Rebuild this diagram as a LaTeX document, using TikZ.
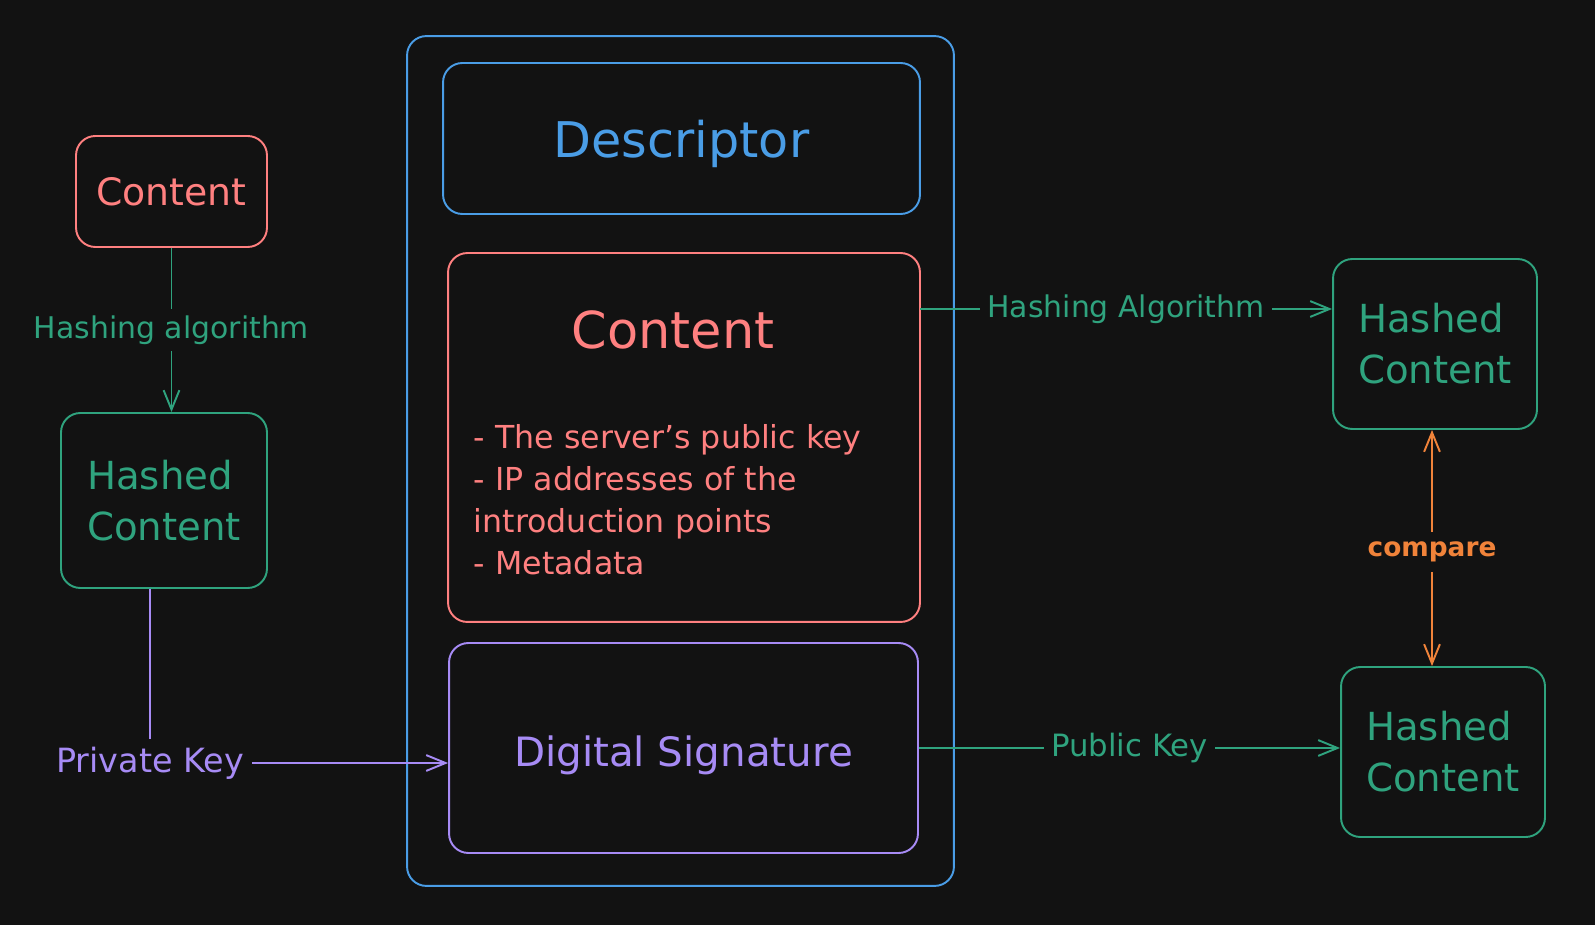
\documentclass[tikz,border=0pt]{standalone}
\usepackage{fontspec}
\setmainfont{DejaVu Sans}
\usetikzlibrary{arrows.meta}
\definecolor{bg}{HTML}{121212}
\definecolor{exred}{HTML}{FF8080}
\definecolor{exgreen}{HTML}{2FA37E}
\definecolor{exblue}{HTML}{4A9DE6}
\definecolor{expurple}{HTML}{A78BF5}
\definecolor{exorange}{HTML}{F0833A}
\begin{document}
\begin{tikzpicture}[x=0.02cm, y=-0.02cm, line width=1.1pt,
        >={Straight Barb[length=11pt,width=9pt]},
        box/.style={draw, rounded corners=11pt, inner sep=0pt},
        hashbox/.style={box, exgreen, minimum width=4.08cm, minimum height=3.4cm, align=left, font=\fontsize{22}{29}\selectfont},
        lbl/.style={fill=bg, inner sep=4pt, font=\fontsize{17}{20}\selectfont}]
        \fill[bg] (0,0) rectangle (1595,925);
        % left column
        \node[box, exred, minimum width=3.82cm, minimum height=2.22cm, font=\fontsize{21.5}{26}\selectfont] (cont) at (171.5,191.5) {Content};
        \node[hashbox, minimum width=4.12cm, minimum height=3.5cm] (hashL) at (164,500.5) {Hashed\\Content};
        \node[expurple, lbl, fill=none, font=\fontsize{19}{22}\selectfont] (pk) at (150,763) {Private Key};
        % descriptor
        \node[box, exblue, minimum width=10.94cm, minimum height=17cm] (desc) at (680.5,461) {};
        \node[box, exblue, minimum width=9.54cm, minimum height=3.02cm, text height=27.5pt, text depth=6pt, font=\fontsize{28}{34}\selectfont] (title) at (681.5,138.5) {Descriptor};
        \node[box, exred, minimum width=9.44cm, minimum height=7.38cm] (content) at (684,437.5) {};
        \node[exred, font=\fontsize{29}{34}\selectfont] (contTitle) at (673,330) {Content};
        \node[exred, anchor=west, align=left, inner sep=0pt, font=\fontsize{18}{23.8}\selectfont] (contList) at (473,499.5) {- The server's public key\\- IP addresses of the\\introduction points\\- Metadata};
        \node[box, expurple, minimum width=9.38cm, minimum height=4.2cm, text height=26pt, text depth=5pt, font=\fontsize{23}{28}\selectfont] (sig) at (683.5,748) {Digital Signature};
        % right column
        \node[hashbox] (hashT) at (1435,344) {Hashed\\Content};
        \node[hashbox] (hashB) at (1443,752) {Hashed\\Content};
        \node[exorange, lbl, inner sep=5pt, font=\fontsize{15}{18}\bfseries] (cmp) at (1432,552) {compare};
        \coordinate (haStart) at (920,309);
        % connectors
        \draw[exgreen, ->] (cont.south) -- (cont.south |- hashL.north) node[lbl, midway] {Hashing algorithm};
        \draw[expurple] (pk.north |- hashL.south) -- (pk.north);
        \draw[expurple, ->] (pk.east) -- (pk.east -| sig.west);
        \draw[exgreen, ->] (haStart) -- (haStart -| hashT.west) node[lbl, midway] {Hashing Algorithm};
        \draw[exgreen, ->] (sig.east) -- (sig.east -| hashB.west) node[lbl, midway, font=\fontsize{17.5}{20}\selectfont] {Public Key};
        \draw[exorange, ->] (cmp.north) -- (cmp.north |- hashT.south);
        \draw[exorange, ->] (cmp.south) -- (cmp.south |- hashB.north);
    \end{tikzpicture}
\end{document}
